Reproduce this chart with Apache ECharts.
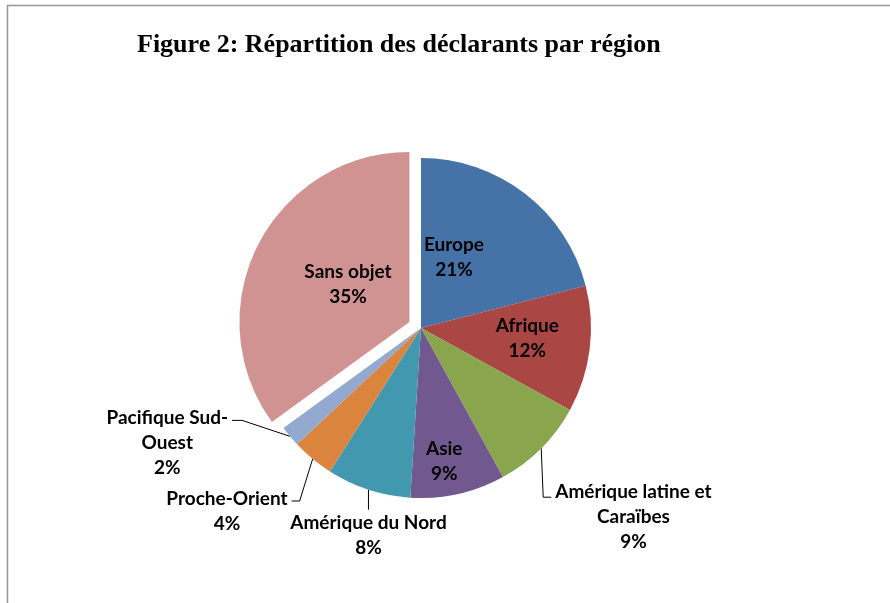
<!DOCTYPE html>
<html>
<head>
<meta charset="utf-8">
<script src="https://cdn.jsdelivr.net/npm/echarts@6/dist/echarts.min.js"></script>
<style>
html,body{margin:0;padding:0;background:#fff;}
#chart{width:890px;height:603px;}
</style>
</head>
<body>
<div id="chart"></div>
<script>
const titleText = 'Figure 2: Répartition des déclarants par région';
const categories = ['Europe', 'Afrique', 'Amérique latine et\nCaraïbes', 'Asie', 'Amérique du Nord', 'Proche-Orient', 'Pacifique Sud-\nOuest', 'Sans objet'];
const values = [21, 12, 9, 9, 8, 4, 2, 35];
const colors = ['#4572A7', '#AA4643', '#89A54E', '#71588F', '#4198AF', '#DB843D', '#93A9CF', '#D19392'];
const insideItems = [0, 1, 3, 7];
const explodedItem = 7;

// label styling adjustments (offsets relative to library-computed anchors)
const insideShift = {0: [-21, -1], 1: [19, -1], 3: [4, 47], 7: [17, 2]};
const leader = {
  2: {bend: [2, 49], tail: 8, side: 'right', offY: -18},
  4: {bend: [0, 20], tail: 0, side: 'center', offY: 1},
  5: {bend: [-13, 42], tail: -8, side: 'left', offY: -15},
  6: {bend: [-48, -16], tail: -10, side: 'left', offY: -15}
};

const chart = echarts.init(document.getElementById('chart'));
const labelFont = {fontFamily: 'Lato', fontWeight: 'bold', fontSize: 19, lineHeight: 25, color: '#000'};

const data = categories.map((name, i) => {
  const inside = insideItems.indexOf(i) >= 0;
  return {
    name: name,
    value: values[i],
    selected: i === explodedItem,
    itemStyle: {color: colors[i]},
    label: Object.assign({position: inside ? 'inside' : 'outside', align: 'center'}, labelFont),
    labelLine: {show: !inside}
  };
});

chart.setOption({
  animation: false,
  backgroundColor: '#fff',
  title: {
    text: titleText,
    left: 132,
    top: 27,
    textStyle: {fontFamily: 'Liberation Serif', fontWeight: 'bold', fontSize: 26, color: '#000'}
  },
  graphic: [{
    type: 'rect',
    shape: {x: 7.5, y: 5.5, width: 1000, height: 1000},
    style: {fill: 'none', stroke: '#969696', lineWidth: 1.5},
    silent: true
  }],
  series: [{
    type: 'pie',
    center: [421, 328],
    radius: 170,
    startAngle: 90,
    clockwise: true,
    selectedMode: 'single',
    selectedOffset: 13,
    avoidLabelOverlap: false,
    percentPrecision: 0,
    emphasis: {disabled: true},
    itemStyle: {borderWidth: 0},
    label: {formatter: '{b}\n{d}%'},
    labelLine: {lineStyle: {color: '#000', width: 1}, length: 20, length2: 8},
    labelLayout: function (p) {
      const i = p.dataIndex;
      if (insideShift[i]) {
        return {dx: insideShift[i][0], dy: insideShift[i][1]};
      }
      const L = leader[i];
      if (!L || !p.labelLinePoints) return {};
      const p0 = p.labelLinePoints[0];
      const p1 = [p0[0] + L.bend[0], p0[1] + L.bend[1]];
      const p2 = [p1[0] + L.tail, p1[1]];
      const w = p.labelRect.width;
      let x;
      if (L.side === 'right') x = p2[0] + 4 + w / 2;
      else if (L.side === 'left') x = p2[0] - 4 - w / 2;
      else x = p2[0];
      return {
        x: x,
        y: p2[1] + L.offY,
        align: 'center',
        verticalAlign: 'top',
        labelLinePoints: [p0, p1, p2]
      };
    },
    data: data
  }]
});
</script>
</body>
</html>
